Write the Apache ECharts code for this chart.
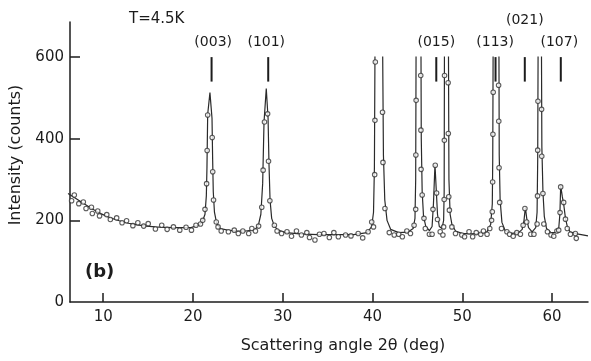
<!DOCTYPE html>
<html><head><meta charset="utf-8">
<script src="https://cdn.jsdelivr.net/npm/echarts@6/dist/echarts.min.js"></script>
<style>html,body{margin:0;padding:0;background:#fff}#c{width:591px;height:361px}</style>
</head><body><div id="c"></div>
<script>
// Observed data points (scattering angle 2θ in deg, intensity in counts)
const obsAngles = [6.7,7.0,7.5,8.0,8.3,8.9,9.0,9.6,9.8,10.6,11.0,11.7,12.3,12.8,13.5,14.05,14.7,15.2,16.0,16.7,17.3,18.0,18.7,19.4,20.0,20.5,21.0,21.25,21.5,21.68,21.74,21.8,22.3,22.36,22.45,22.75,22.95,23.3,24.1,24.75,25.2,25.7,26.35,26.7,27.1,27.45,27.8,27.95,28.1,28.45,28.55,28.7,29.2,29.5,30.0,30.6,31.1,31.65,32.2,32.8,33.1,33.7,34.2,34.7,35.3,35.8,36.3,37.1,37.7,38.5,39.0,39.6,40.0,40.2,40.33,40.36,40.4,41.2,41.25,41.47,41.95,42.5,43.0,43.4,43.9,44.3,44.7,44.88,44.9,44.93,45.44,45.46,45.48,45.6,45.8,45.95,46.4,46.7,46.8,47.05,47.2,47.3,47.6,47.9,47.98,48.04,48.06,48.08,48.48,48.5,48.55,48.62,48.9,49.3,50.0,50.3,50.8,51.2,51.6,52.1,52.4,52.8,53.1,53.3,53.38,53.42,53.45,53.48,54.08,54.1,54.13,54.2,54.4,55.0,55.3,55.7,56.1,56.5,56.8,57.0,57.2,57.65,58.0,58.35,58.4,58.42,58.45,58.85,58.87,59.0,59.1,59.5,59.9,60.2,60.55,60.75,60.9,60.97,61.3,61.5,61.7,62.05,62.6,62.7];
const obsCounts = [248,262,241,245,229,232,217,223,211,214,202,206,194,199,187,194,186,192,179,188,178,184,176,183,176,188,191,200,227,290,371,458,403,319,250,196,184,174,172,176,168,174,168,180,174,186,232,323,441,461,345,248,188,174,168,172,161,174,164,170,158,152,166,168,158,170,160,164,162,168,157,172,196,184,312,445,588,465,342,229,170,164,166,160,174,168,188,227,360,494,555,421,325,262,205,180,166,166,227,335,267,202,172,164,184,251,396,555,537,413,258,225,184,168,164,160,172,160,170,166,174,166,180,200,221,294,411,514,531,443,329,244,180,172,166,161,170,166,188,229,196,166,166,191,260,372,492,472,357,266,191,172,164,161,174,176,219,282,244,203,180,166,168,156];

// Fitted curve (tall peaks run off the top of the frame)
const fitAngles = [6.3,7,8,9,10,11,12,13,14,15,16,17,18,19,20,20.8,21.2,21.5,21.65,21.72,21.8,22.05,22.28,22.35,22.42,22.55,22.8,23.2,24,25,26,27,27.4,27.7,27.9,28.05,28.3,28.5,28.6,28.72,28.9,29.2,29.6,30.5,32,34,36,38,39.5,40.0,40.2,40.3,40.36,40.8,41.22,41.3,41.45,41.7,42.1,43,44,44.6,44.8,44.88,44.92,45.2,45.47,45.5,45.6,45.75,46,46.4,46.7,46.85,47.02,47.15,47.3,47.5,47.8,47.98,48.04,48.07,48.3,48.52,48.57,48.7,48.9,49.3,50,51,52,52.8,53.2,53.38,53.43,53.47,53.8,54.12,54.15,54.25,54.45,54.8,55.5,56.3,56.7,56.9,57.05,57.2,57.4,57.8,58.2,58.35,58.42,58.46,58.65,58.84,58.88,59.0,59.15,59.4,59.9,60.4,60.75,60.88,60.97,61.15,61.3,61.5,61.7,62.0,62.8,64];
const fitCounts = [266,256,242,228,216,206,199,193,189,186,184,183,182,182,183,188,196,215,260,330,460,513,450,350,270,220,192,180,176,174,174,177,186,215,290,440,523,450,340,250,205,186,176,170,167,165,165,165,170,185,220,330,600,1800,600,360,250,200,178,170,171,180,205,300,600,1500,600,400,270,210,185,175,185,240,337,280,215,185,180,200,270,600,1500,600,300,215,190,174,168,167,168,172,190,240,350,600,1600,600,360,250,195,175,168,170,178,200,232,205,182,172,182,220,350,600,1200,600,380,270,210,180,170,170,180,215,285,258,240,205,185,172,167,162];

// Reflection labels and marker positions
const peakLabels = ['(003)','(101)','(015)','(113)','(021)','(107)'];
const markerAngles = [22.07,28.38,47.1,53.7,56.96,60.97];
const labelAngles = [22.25,28.16,47.1,53.65,56.96,60.8];
const labelLevels = [637,637,637,637,690,637];
const markerLow = 540, markerHigh = 600;

const xTicks = [10,20,30,40,50,60];
const yTickMarks = [200,400,600];
const yTickLabels = [0,200,400,600];
const xMin = 6.3, xMax = 64, yClip = 600, yTop = 686;

const gLeft = 68, gRight = 3, gTop = 22, gBottom = 59, H = 361;
const plotH = H - gTop - gBottom;
const clipTop = gTop + (yTop - yClip) / yTop * plotH;
const ink = '#1c1c1c';
const font = 'DejaVu Sans';

const chart = echarts.init(document.getElementById('c'), null, {renderer:'canvas'});
chart.setOption({
  animation:false,
  backgroundColor:'#fff',
  textStyle:{fontFamily:font},
  title:[
    {text:'T=4.5K', left:124, top:7, textStyle:{fontFamily:font, fontSize:15, fontWeight:'normal', color:ink}},
    {text:'{p|(}{b|b}{p|)}', left:80, top:258, textStyle:{rich:{
      p:{fontFamily:font, fontSize:18, color:ink},
      b:{fontFamily:font, fontSize:18, fontWeight:'bold', color:ink}}}}
  ],
  grid:[
    {left:gLeft, right:gRight, top:clipTop, bottom:gBottom},
    {left:gLeft, right:gRight, top:gTop, bottom:gBottom}
  ],
  xAxis:[
    {gridIndex:0, type:'value', min:xMin, max:xMax, show:false},
    {gridIndex:1, type:'value', min:xMin, max:xMax,
     name:'Scattering angle 2θ (deg)', nameLocation:'middle', nameGap:36,
     nameTextStyle:{fontFamily:font, fontSize:16, color:ink, padding:[0,0,0,28]},
     axisLine:{lineStyle:{color:ink, width:1.5}},
     axisTick:{inside:true, length:9, customValues:xTicks, lineStyle:{color:ink, width:1.5}},
     axisLabel:{customValues:xTicks, fontFamily:font, fontSize:15, color:ink, margin:8},
     splitLine:{show:false}}
  ],
  yAxis:[
    {gridIndex:0, type:'value', min:0, max:yClip, show:false},
    {gridIndex:1, type:'value', min:0, max:yTop,
     name:'Intensity (counts)', nameLocation:'middle', nameGap:46,
     nameTextStyle:{fontFamily:font, fontSize:16, color:ink, padding:[0,0,0,14]},
     axisLine:{show:true, lineStyle:{color:ink, width:1.5}},
     axisTick:{show:true, inside:true, length:10, customValues:yTickMarks, lineStyle:{color:ink, width:1.5}},
     axisLabel:{customValues:yTickLabels, fontFamily:font, fontSize:15, color:ink, margin:6},
     splitLine:{show:false}}
  ],
  series:[
    {type:'line', xAxisIndex:0, yAxisIndex:0, data:fitAngles.map((a,i)=>[a,fitCounts[i]]),
     showSymbol:false, clip:true, lineStyle:{color:'#2a2a2a', width:1.2}, z:2, silent:true},
    {type:'scatter', xAxisIndex:0, yAxisIndex:0, data:obsAngles.map((a,i)=>[a,obsCounts[i]]),
     symbol:'circle', symbolSize:4.5, clip:true,
     itemStyle:{color:'#fff', borderColor:'#333', borderWidth:1.1}, z:3, silent:true},
    {type:'custom', xAxisIndex:1, yAxisIndex:1, data:markerAngles.map(a=>[a, markerHigh]),
     renderItem:function(params, api){
       const p1 = api.coord([api.value(0), markerLow]);
       const p2 = api.coord([api.value(0), markerHigh]);
       return {type:'line', shape:{x1:p1[0], y1:p1[1], x2:p2[0], y2:p2[1]},
               style:{stroke:ink, lineWidth:2}};
     }, z:4, silent:true},
    {type:'custom', xAxisIndex:1, yAxisIndex:1, silent:true, z:5,
     data:labelAngles.map((a,i)=>[a, labelLevels[i]]),
     renderItem:function(params, api){
       const p = api.coord([api.value(0), api.value(1)]);
       return {type:'text', x:p[0], y:p[1],
               style:{text:peakLabels[params.dataIndex], fill:ink, font:'14px "DejaVu Sans"',
                      align:'center', verticalAlign:'middle'}};
     }}
  ]
});
</script></body></html>
